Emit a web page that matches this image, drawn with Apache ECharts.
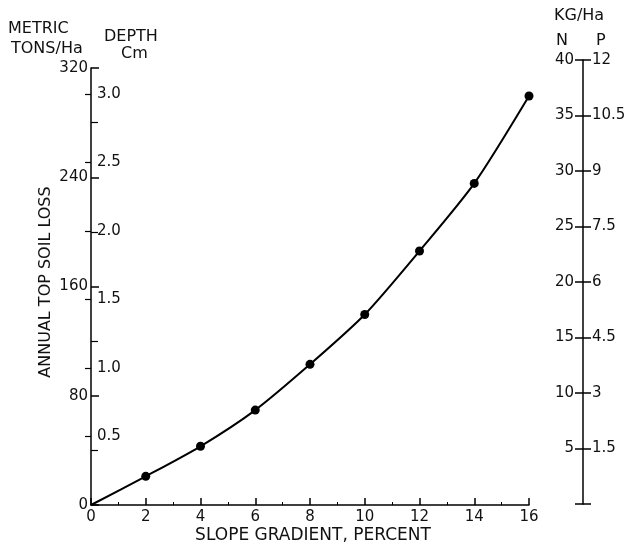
<!DOCTYPE html>
<html>
<head>
<meta charset="utf-8">
<script src="https://cdn.jsdelivr.net/npm/echarts@6/dist/echarts.min.js"></script>
<style>html,body{margin:0;padding:0;background:#fff}#c{width:629px;height:550px}</style>
</head>
<body>
<div id="c"></div>
<script>
// Data
const slopePercent = [0, 2, 4, 6, 8, 10, 12, 14, 16];
const soilLossTons = [0, 21, 43, 69.5, 103, 139.5, 186, 235.5, 299.5];
const depthTicks = [0.5, 1.0, 1.5, 2.0, 2.5, 3.0];
const nTicks = [5, 10, 15, 20, 25, 30, 35, 40];
const pTicks = [1.5, 3, 4.5, 6, 7.5, 9, 10.5, 12];

const FONT = '"DejaVu Sans"';
const TXT = '#111';
const FS = 15;
const chart = echarts.init(document.getElementById('c'));

const seriesData = slopePercent.map((x, i) =>
  i === 0 ? { value: [x, soilLossTons[i]], symbol: 'none' } : [x, soilLossTons[i]]
);

const axisLineStyle = { show: true, lineStyle: { color: '#000', width: 1.5 } };

chart.setOption({
  animation: false,
  backgroundColor: '#fff',
  grid: [
    { left: 91, top: 68, width: 438, bottom: 45 },
    { left: 583, top: 60, width: 1, bottom: 46 }
  ],
  xAxis: [
    {
      type: 'value', gridIndex: 0, min: 0, max: 16, interval: 2,
      axisLine: axisLineStyle,
      axisTick: { show: true, inside: true, length: 7, lineStyle: { color: '#000', width: 1.5 } },
      minorTick: { show: true, splitNumber: 2, length: 3, lineStyle: { color: '#000', width: 1 } },
      axisLabel: { color: TXT, fontFamily: FONT, fontSize: FS, margin: 5 },
      splitLine: { show: false }
    },
    {
      type: 'value', gridIndex: 1, min: 0, max: 1, show: false
    }
  ],
  yAxis: [
    {
      type: 'value', gridIndex: 0, min: 0, max: 320, interval: 80, position: 'left',
      axisLine: axisLineStyle,
      axisTick: { show: true, inside: true, length: 8, lineStyle: { color: '#000', width: 1.5 } },
      minorTick: { show: true, splitNumber: 2, length: 7, lineStyle: { color: '#000', width: 1.2 } },
      axisLabel: { color: TXT, fontFamily: FONT, fontSize: FS, margin: 3 },
      splitLine: { show: false }
    },
    {
      type: 'value', gridIndex: 0, min: 0, max: 3.19, position: 'left', offset: 0,
      axisLine: { show: false },
      axisTick: { show: true, inside: false, length: 6, customValues: depthTicks, lineStyle: { color: '#000', width: 1.2 } },
      axisLabel: { inside: true, margin: 6, color: TXT, fontFamily: FONT, fontSize: FS,
        customValues: depthTicks, formatter: v => Number(v).toFixed(1) },
      splitLine: { show: false }
    },
    {
      type: 'value', gridIndex: 1, min: 0, max: 40, interval: 5, position: 'left', offset: 0,
      axisLine: axisLineStyle,
      axisTick: { show: true, inside: false, length: 8, lineStyle: { color: '#000', width: 1.5 } },
      axisLabel: { color: TXT, fontFamily: FONT, fontSize: FS, margin: 9, customValues: nTicks },
      splitLine: { show: false }
    },
    {
      type: 'value', gridIndex: 1, min: 0, max: 12, interval: 1.5, position: 'left', offset: 0,
      axisLine: { show: false },
      axisTick: { show: true, inside: true, length: 8, lineStyle: { color: '#000', width: 1.5 } },
      axisLabel: { inside: true, color: TXT, fontFamily: FONT, fontSize: FS, margin: 9, customValues: pTicks },
      splitLine: { show: false }
    }
  ],
  series: [
    {
      type: 'line', xAxisIndex: 0, yAxisIndex: 0,
      data: seriesData,
      smooth: 0.25,
      symbol: 'circle', symbolSize: 9,
      itemStyle: { color: '#000' },
      lineStyle: { color: '#000', width: 2 }
    }
  ],
  graphic: [
    { type: 'text', left: 8, top: 21, style: { text: 'METRIC', font: '16px ' + FONT, fill: TXT } },
    { type: 'text', left: 11, top: 41, style: { text: 'TONS/Ha', font: '16px ' + FONT, fill: TXT } },
    { type: 'text', left: 104, top: 29, style: { text: 'DEPTH', font: '16px ' + FONT, fill: TXT } },
    { type: 'text', left: 121, top: 46, style: { text: 'Cm', font: '16px ' + FONT, fill: TXT } },
    { type: 'text', left: 554, top: 8, style: { text: 'KG/Ha', font: '16px ' + FONT, fill: TXT } },
    { type: 'text', left: 556, top: 33, style: { text: 'N', font: '16px ' + FONT, fill: TXT } },
    { type: 'text', left: 596, top: 33, style: { text: 'P', font: '16px ' + FONT, fill: TXT } },
    { type: 'text', x: 46, y: 282, rotation: Math.PI / 2,
      style: { text: 'ANNUAL TOP SOIL LOSS', font: '16px ' + FONT, fill: TXT, align: 'center', verticalAlign: 'middle' } },
    { type: 'text', x: 313, y: 536,
      style: { text: 'SLOPE GRADIENT, PERCENT', font: '17px ' + FONT, fill: TXT, align: 'center', verticalAlign: 'middle' } }
  ]
});
</script>
</body>
</html>
